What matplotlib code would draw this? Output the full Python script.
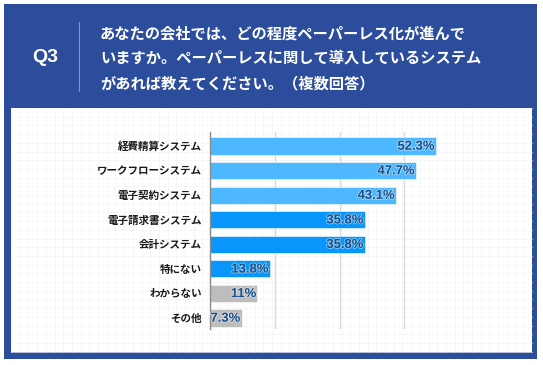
import numpy as np
import matplotlib
matplotlib.use("Agg")
import matplotlib.pyplot as plt
import matplotlib.patches as patches
import matplotlib.patheffects as pe

# data
categories = ['経費精算システム', 'ワークフローシステム', '電子契約システム', '電子請求書システム',
              '会計システム', '特にない', 'わからない', 'その他']
values = [52.3, 47.7, 43.1, 35.8, 35.8, 13.8, 11, 7.3]
value_labels = ['52.3%', '47.7%', '43.1%', '35.8%', '35.8%', '13.8%', '11%', '7.3%']
bar_colors = ['#4db8ff', '#4db8ff', '#4db8ff', '#0996fb', '#0996fb', '#0996fb', '#bdbdbd', '#bdbdbd']
grid_ticks = [15, 30, 45, 60]

question_no = 'Q3'
question_lines = ['あなたの会社では、どの程度ペーパーレス化が進んで',
                  'いますか。ペーパーレスに関して導入しているシステム',
                  'があれば教えてください。（複数回答）']

W, H = 543, 365
NAVY = '#2c4c9c'
jp = ['Noto Sans CJK JP', 'DejaVu Sans']

fig = plt.figure(figsize=(W / 100, H / 100), dpi=100)

# background layer in pixel coordinates
bg = fig.add_axes([0, 0, 1, 1])
bg.set_xlim(0, W)
bg.set_ylim(H, 0)
bg.axis('off')
bg.add_patch(patches.Rectangle((4, 4), 533, 355, color=NAVY, lw=0))
bg.add_patch(patches.Rectangle((11, 108), 521, 244, color='white', lw=0))

# faint square pattern on the white panel
for gx in np.arange(11, 532, 8.7):
    bg.plot([gx, gx], [108, 352], color='#f4f4f4', lw=0.5, zorder=1)
for gy in np.arange(108, 352, 8.7):
    bg.plot([11, 532], [gy, gy], color='#f4f4f4', lw=0.5, zorder=1)

# header
bg.text(45.5, 57, question_no, color='white', fontsize=14, fontweight='bold',
        ha='center', va='center', family='Liberation Sans')
bg.plot([79, 79], [22, 91], color='#7f95c8', lw=0.8)
for i, line in enumerate(question_lines):
    bg.text(100, 33 + i * 25, line, color='white', fontsize=11, fontweight='bold',
            ha='left', va='center', family=jp)

# bar chart
ax = fig.add_axes([210 / W, (H - 329) / H, (469 - 210) / W, (329 - 132) / H])
ax.patch.set_alpha(0)
y = np.arange(len(categories))
ax.barh(y, values, height=0.7, color=bar_colors, edgecolor='white', linewidth=0.4, zorder=3)
ax.set_xlim(0, 60)
ax.set_ylim(7.45, -0.57)
ax.set_xticks(grid_ticks)
ax.xaxis.grid(True, color='#d8d8d8', lw=1)
ax.set_axisbelow(True)
ax.tick_params(axis='x', length=0, labelbottom=False)
ax.tick_params(axis='y', length=0, pad=6)
ax.set_yticks(y)
ax.set_yticklabels(categories, fontsize=7.6, fontweight='bold', family=jp, color='#1a1a1a')
for s in ['top', 'right', 'bottom']:
    ax.spines[s].set_visible(False)
ax.spines['left'].set_color('#8c8c8c')
ax.spines['left'].set_linewidth(1)
ax.spines['left'].set_zorder(4)

for yi, v, lab in zip(y, values, value_labels):
    ax.text(v - 0.3, yi + 0.03, lab, ha='right', va='center', fontsize=9.4,
            color='#1c4f88', fontweight='bold', family='Liberation Sans', zorder=5,
            path_effects=[pe.withStroke(linewidth=1.2, foreground='white', alpha=0.5)])

fig.savefig('out.png', dpi=100)
